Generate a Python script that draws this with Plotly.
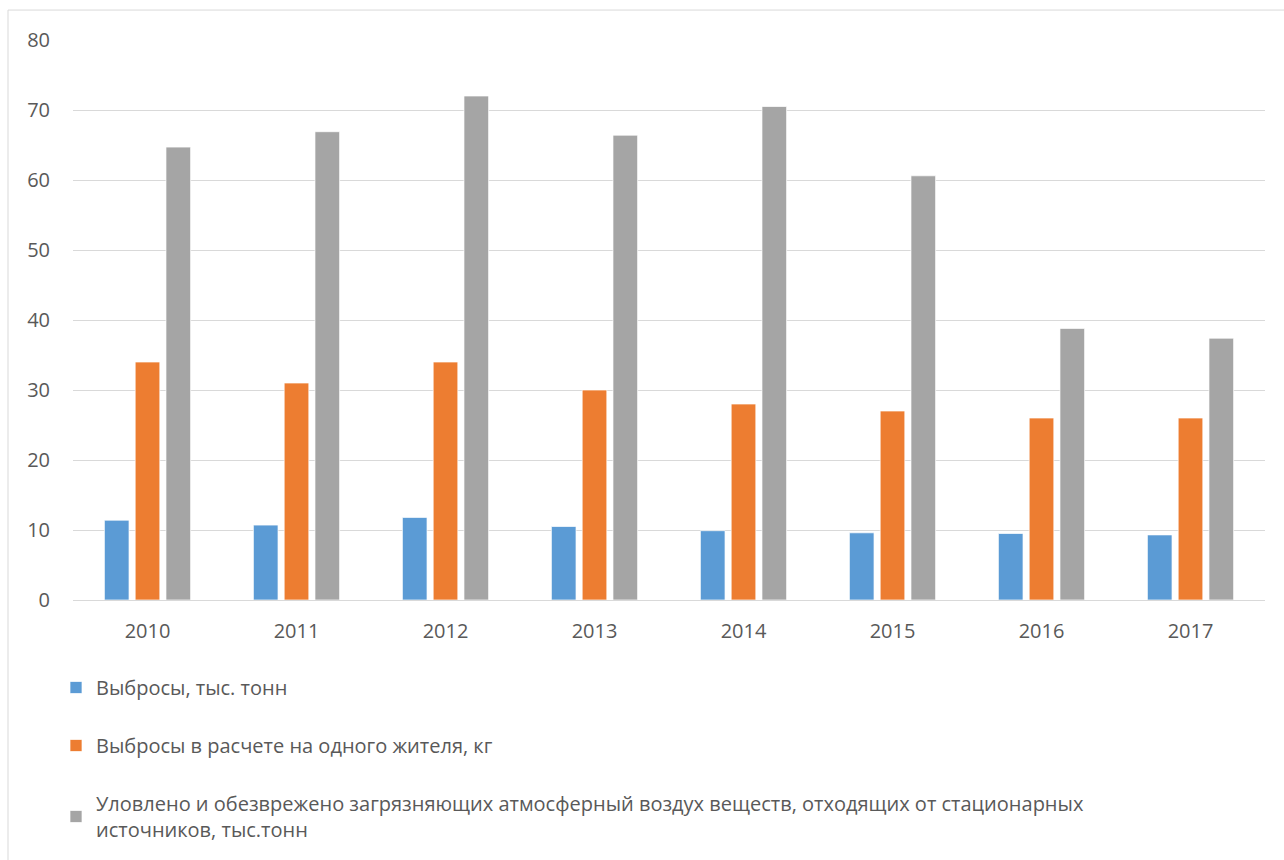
import plotly.graph_objects as go

# Годы наблюдений
years = ["2010", "2011", "2012", "2013", "2014", "2015", "2016", "2017"]

# Выбросы загрязняющих веществ, тыс. тонн
emissions = [11.4, 10.7, 11.8, 10.5, 9.9, 9.6, 9.5, 9.3]

# Выбросы в расчете на одного жителя, кг
per_capita = [34, 31, 34, 30, 28, 27, 26, 26]

# Уловлено и обезврежено от стационарных источников, тыс. тонн
captured = [64.7, 66.9, 72.0, 66.4, 70.5, 60.6, 38.8, 37.4]

series_names = [
    "Выбросы, тыс. тонн",
    "Выбросы в расчете на одного жителя, кг",
    "Уловлено и обезврежено загрязняющих атмосферный воздух веществ, отходящих от стационарных<br>источников, тыс.тонн",
]
series_colors = ["#5B9BD5", "#ED7D31", "#A5A5A5"]
series_values = [emissions, per_capita, captured]

FONT = "Open Sans"
TEXT_COLOR = "#595959"
GRID_COLOR = "#D9D9D9"

fig = go.Figure()
for i, (name, vals, color) in enumerate(zip(series_names, series_values, series_colors)):
    fig.add_trace(
        go.Bar(
            x=years,
            y=vals,
            name=name,
            legendgroup=f"g{i}",
            marker=dict(color=color, line=dict(color="rgba(255,255,255,0.7)", width=1)),
        )
    )

# plot area spans roughly x 73..1265, y 40..601 px
L, R, T, B = 73, 19, 40, 259
W, H = 1284, 860
pw = W - L - R
ph = H - T - B

fig.update_layout(
    width=W,
    height=H,
    margin=dict(l=L, r=R, t=T, b=B, pad=0),
    paper_bgcolor="white",
    plot_bgcolor="white",
    font=dict(family=FONT, size=20, color=TEXT_COLOR),
    barmode="group",
    bargap=0.38,
    bargroupgap=0.2,
    showlegend=True,
    legend=dict(
        orientation="v",
        x=(56 - L) / pw,
        xanchor="left",
        y=(601 - 668) / ph,
        yanchor="top",
        tracegroupgap=29,
        font=dict(family=FONT, size=20, color=TEXT_COLOR),
        bgcolor="rgba(0,0,0,0)",
        itemclick=False,
    ),
    xaxis=dict(
        showgrid=False,
        showline=True,
        linecolor=GRID_COLOR,
        linewidth=1,
        ticks="",
        ticklabelstandoff=13,
        tickfont=dict(family=FONT, size=20, color=TEXT_COLOR),
        fixedrange=True,
    ),
    yaxis=dict(
        range=[0, 80],
        dtick=10,
        showgrid=True,
        gridcolor=GRID_COLOR,
        gridwidth=1,
        zeroline=False,
        showline=False,
        ticks="",
        ticklabelstandoff=22,
        tickfont=dict(family=FONT, size=20, color=TEXT_COLOR),
        fixedrange=True,
    ),
)

# chart frame
fig.add_shape(
    type="rect",
    xref="paper",
    yref="paper",
    x0=(8 - L) / pw,
    x1=(W + 20 - L) / pw,
    y0=(601 - (H + 20)) / ph,
    y1=(601 - 10) / ph,
    line=dict(color=GRID_COLOR, width=1),
    fillcolor="rgba(0,0,0,0)",
    layer="below",
)

fig.write_html("out.html")
